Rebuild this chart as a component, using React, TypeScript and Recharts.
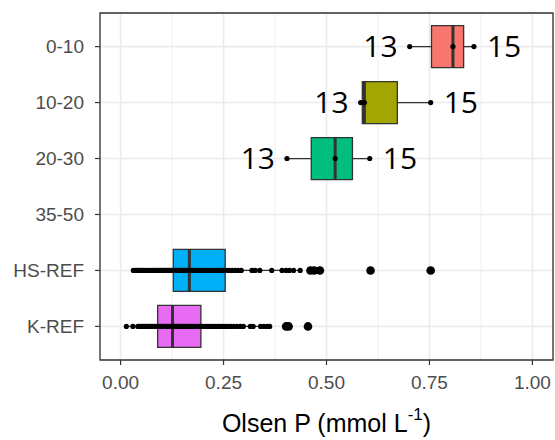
import React from "react";
import {
  ComposedChart,
  Bar,
  Cell,
  Scatter,
  XAxis,
  YAxis,
  CartesianGrid,
  ReferenceArea,
  Label,
} from "recharts";

// categories (top to bottom)
const categories = ["0-10", "10-20", "20-30", "35-50", "HS-REF", "K-REF"];

// box statistics (Olsen P, mmol/L)
const whiskerLow = [0.702, 0.583, 0.404, null, 0.031, 0.014];
const q1 = [0.755, 0.587, 0.463, null, 0.128, 0.09];
const median = [0.807, 0.592, 0.521, null, 0.167, 0.126];
const q3 = [0.833, 0.672, 0.563, null, 0.254, 0.195];
const whiskerHigh = [0.858, 0.753, 0.605, null, 0.436, 0.362];

// annotation numbers next to the depth boxes
const labelLow = ["13", "13", "13", null, null, null];
const labelHigh = ["15", "15", "15", null, null, null];

// raw observations
const pts0010 = [0.702, 0.807, 0.858];
const pts1020 = [0.583, 0.592, 0.753];
const pts2030 = [0.404, 0.521, 0.605];
const ptsHS = [
  0.031, 0.036, 0.04, 0.044, 0.048, 0.052, 0.056, 0.06, 0.066, 0.072, 0.077,
  0.082, 0.086, 0.09, 0.094, 0.098, 0.102, 0.106, 0.11, 0.113, 0.117, 0.121,
  0.125, 0.129, 0.133, 0.137, 0.141, 0.145, 0.149, 0.152, 0.156, 0.16, 0.164,
  0.168, 0.172, 0.176, 0.18, 0.186, 0.192, 0.198, 0.203, 0.208, 0.213, 0.219,
  0.226, 0.232, 0.237, 0.242, 0.247, 0.252, 0.258, 0.264, 0.271, 0.278, 0.285,
  0.293, 0.319, 0.327, 0.338, 0.367, 0.392, 0.402, 0.41, 0.42, 0.436,
];
const outHS = [0.461, 0.47, 0.484, 0.607, 0.753];
const ptsK = [
  0.014, 0.03, 0.042, 0.046, 0.05, 0.054, 0.058, 0.062, 0.066, 0.07, 0.074,
  0.078, 0.082, 0.086, 0.09, 0.094, 0.098, 0.102, 0.106, 0.11, 0.114, 0.118,
  0.122, 0.126, 0.13, 0.134, 0.138, 0.142, 0.146, 0.15, 0.154, 0.158, 0.162,
  0.166, 0.17, 0.175, 0.18, 0.185, 0.19, 0.195, 0.2, 0.206, 0.212, 0.218,
  0.224, 0.23, 0.236, 0.242, 0.248, 0.254, 0.261, 0.268, 0.275, 0.283, 0.291,
  0.298, 0.315, 0.322, 0.34, 0.348, 0.356, 0.362,
];
const outK = [0.402, 0.408, 0.455];

const xDomain = [-0.05, 1.05];
const xTicks = [0, 0.25, 0.5, 0.75, 1];
const xMinor = [0.125, 0.375, 0.625, 0.875];

const COLORS = ["#F8766D", "#A3A500", "#00BF7D", "#999999", "#00B0F6", "#E76BF3"];
const INK = "#333333";

const rows = categories.map((name, i) => ({
  name,
  whisker: whiskerLow[i] == null ? null : [whiskerLow[i], whiskerHigh[i]],
  box: q1[i] == null ? null : [q1[i], q3[i]],
  med: q1[i] == null ? null : [q1[i], median[i]],
  lo: labelLow[i],
  hi: labelHigh[i],
}));

const toPts = (vals: number[], row: number) => vals.map((v) => ({ v, row }));
const smallPts = [
  ...toPts(pts0010, 1),
  ...toPts(pts1020, 2),
  ...toPts(pts2030, 3),
  ...toPts(ptsHS, 5),
  ...toPts(ptsK, 6),
];
const bigPts = [...toPts(outHS, 5), ...toPts(outK, 6)];

const ok = (p: any) =>
  p && Number.isFinite(p.x) && Number.isFinite(p.y) && Number.isFinite(p.width);

const WhiskerShape = (p: any) => {
  if (!ok(p) || !p.payload || !p.payload.whisker) return <g />;
  const cy = p.y + p.height / 2;
  const txt = { fontFamily: "'Open Sans', sans-serif", fontSize: 30, fill: "#000" };
  return (
    <g>
      <line x1={p.x} x2={p.x + p.width} y1={cy} y2={cy} stroke={INK} strokeWidth={1.3} />
      {p.payload.lo && (
        <text x={p.x - 12} y={cy + 10} textAnchor="end" {...txt}>
          {p.payload.lo}
        </text>
      )}
      {p.payload.hi && (
        <text x={p.x + p.width + 13} y={cy + 10} textAnchor="start" {...txt}>
          {p.payload.hi}
        </text>
      )}
    </g>
  );
};

const MedianShape = (p: any) => {
  if (!ok(p) || !p.payload || !p.payload.med) return <g />;
  const mx = p.x + p.width;
  return <line x1={mx} x2={mx} y1={p.y} y2={p.y + p.height} stroke={INK} strokeWidth={3} />;
};

const smallDot = (p: any) =>
  Number.isFinite(p.cx) ? <circle cx={p.cx} cy={p.cy} r={2.6} fill="#000" /> : <g />;
const bigDot = (p: any) =>
  Number.isFinite(p.cx) ? <circle cx={p.cx} cy={p.cy} r={4.3} fill="#000" /> : <g />;

const renderTitle = (props: any) => {
  const vb = props.viewBox || {};
  return (
    <text
      x={vb.x + vb.width / 2}
      y={vb.y + 72}
      textAnchor="middle"
      fontFamily="'Liberation Sans', Arial, sans-serif"
      fontSize={25}
      fill="#000"
    >
      <tspan>Olsen P (mmol L</tspan>
      <tspan dy={-12} fontSize={17}>-1</tspan>
      <tspan dy={12}>)</tspan>
    </text>
  );
};

// minor grid positions through the x axis scale (with a linear fallback)
const minorCoords = (args: any) => {
  const s = args?.xAxis?.scale;
  if (typeof s === "function") return xMinor.map((v) => s(v));
  if (s && typeof s.map === "function") return xMinor.map((v) => s.map(v));
  const off = args?.offset;
  if (!off) return [];
  const [d0, d1] = xDomain;
  return xMinor.map((v) => off.left + ((v - d0) / (d1 - d0)) * off.width);
};

const tickStyle = {
  fontFamily: "'Liberation Sans', Arial, sans-serif",
  fontSize: 19,
  fill: "#4D4D4D",
};

export default function App() {
  return (
    <div style={{ position: "absolute", left: 0, top: 0, width: 555, height: 440, background: "#fff" }}>
      <ComposedChart
        width={555}
        height={440}
        data={rows}
        layout="vertical"
        barGap={-42}
        margin={{ top: 13, right: 2, bottom: 0, left: 0 }}
      >
        <CartesianGrid
          horizontal={false}
          stroke="#F0F0F0"
          strokeWidth={1.1}
          verticalCoordinatesGenerator={minorCoords}
        />
        <CartesianGrid stroke="#EBEBEB" strokeWidth={1.6} />
        <XAxis
          type="number"
          domain={xDomain}
          scale="linear"
          allowDataOverflow
          ticks={xTicks}
          tickFormatter={(v: number) => v.toFixed(2)}
          axisLine={false}
          tickLine={{ stroke: INK, strokeWidth: 1.2 }}
          tickSize={5}
          tickMargin={11}
          tick={tickStyle}
          height={80}
        >
          <Label content={renderTitle} />
        </XAxis>
        <YAxis
          type="category"
          dataKey="name"
          width={100}
          padding={{ top: 5.6, bottom: 5.6 }}
          axisLine={false}
          tickLine={{ stroke: INK, strokeWidth: 1.2 }}
          tickSize={5}
          tickMargin={11}
          tick={tickStyle}
        />
        <YAxis
          yAxisId="pts"
          type="number"
          dataKey="row"
          domain={[0.4, 6.6]}
          scale="linear"
          allowDataOverflow
          hide
        />
        <Bar dataKey="whisker" barSize={42} shape={WhiskerShape} isAnimationActive={false} />
        <Bar dataKey="box" barSize={42} stroke={INK} strokeWidth={1.3} isAnimationActive={false}>
          {rows.map((r, i) => (
            <Cell key={r.name} fill={COLORS[i]} />
          ))}
        </Bar>
        <Bar dataKey="med" barSize={42} shape={MedianShape} isAnimationActive={false} />
        <Scatter data={smallPts} dataKey="v" yAxisId="pts" shape={smallDot} isAnimationActive={false} />
        <Scatter data={bigPts} dataKey="v" yAxisId="pts" shape={bigDot} isAnimationActive={false} />
        <ReferenceArea
          x1={-0.05}
          x2={1.05}
          y1={0.4}
          y2={6.6}
          yAxisId="pts"
          fill="none"
          fillOpacity={0}
          stroke={INK}
          strokeWidth={1.3}
        />
      </ComposedChart>
    </div>
  );
}
